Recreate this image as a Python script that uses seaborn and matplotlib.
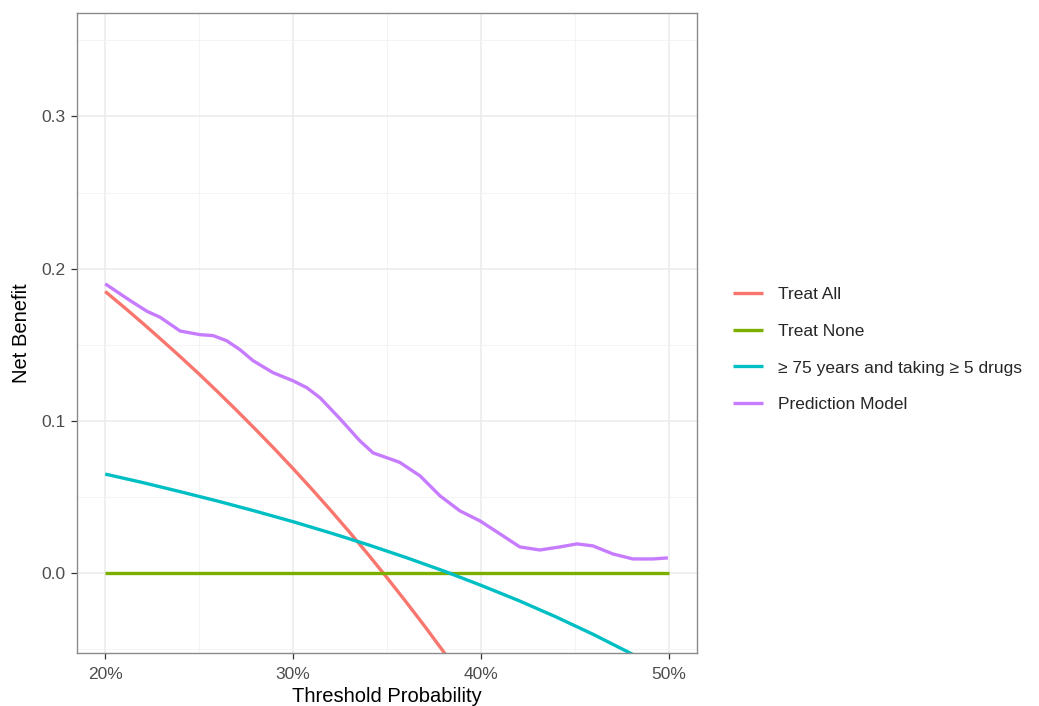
import numpy as np
import pandas as pd
import matplotlib
matplotlib.use("Agg")
import matplotlib.pyplot as plt
import seaborn as sns

# ---- data ----
series_names = ["Treat All", "Treat None", "\u2265 75 years and taking \u2265 5 drugs", "Prediction Model"]
series_colors = ["#F8766D", "#7CAE00", "#00BFC4", "#C77CFF"]

treat_all_x = [0.20, 0.21, 0.22, 0.23, 0.24, 0.25, 0.26, 0.27, 0.28, 0.29, 0.30,
               0.31, 0.32, 0.33, 0.34, 0.35, 0.36, 0.37, 0.38, 0.39, 0.40]
treat_all_y = [0.185, 0.1747, 0.1641, 0.1532, 0.1421, 0.1307, 0.1189, 0.1068, 0.0944, 0.0817, 0.0686,
               0.0551, 0.0412, 0.0269, 0.0121, -0.0031, -0.0188, -0.0349, -0.0516, -0.0688, -0.0867]

treat_none_x = [0.20, 0.50]
treat_none_y = [0.0, 0.0]

rule_x = [0.20, 0.22, 0.24, 0.26, 0.28, 0.30, 0.32, 0.34, 0.36, 0.38, 0.40,
          0.42, 0.44, 0.46, 0.48, 0.50]
rule_y = [0.0650, 0.0594, 0.0534, 0.0472, 0.0406, 0.0337, 0.0263, 0.0185, 0.0102, 0.0014, -0.0081,
          -0.0181, -0.0289, -0.0405, -0.0530, -0.0665]

model_x = [0.200, 0.2133, 0.2222, 0.2293, 0.2399, 0.2505, 0.2574, 0.2647, 0.2718, 0.2787,
           0.2894, 0.300, 0.3074, 0.3144, 0.325, 0.3356, 0.3426, 0.3532, 0.3569, 0.3676,
           0.3782, 0.3888, 0.3995, 0.4101, 0.4207, 0.4314, 0.442, 0.4511, 0.4596, 0.4702,
           0.4809, 0.4915, 0.4995]
model_y = [0.190, 0.179, 0.172, 0.168, 0.159, 0.1566, 0.156, 0.1526, 0.1467, 0.1395,
           0.1316, 0.1263, 0.1217, 0.1151, 0.1013, 0.0868, 0.0789, 0.0743, 0.0726, 0.0638,
           0.0507, 0.0408, 0.0342, 0.0257, 0.0171, 0.0151, 0.0171, 0.0191, 0.0178, 0.0125,
           0.0092, 0.0092, 0.0099]

x_ticks = [0.2, 0.3, 0.4, 0.5]
x_tick_labels = ["20%", "30%", "40%", "50%"]
y_ticks = [0.0, 0.1, 0.2, 0.3]
y_tick_labels = ["0.0", "0.1", "0.2", "0.3"]

# ---- build long-form table ----
frames = []
for name, xs, ys in zip(series_names,
                        [treat_all_x, treat_none_x, rule_x, model_x],
                        [treat_all_y, treat_none_y, rule_y, model_y]):
    frames.append(pd.DataFrame({"threshold": xs, "net_benefit": ys, "model": name}))
df = pd.concat(frames, ignore_index=True)

sns.set_theme(style="white")
plt.rcParams["font.family"] = ["Liberation Sans", "DejaVu Sans"]

fig = plt.figure(figsize=(10.39, 7.06), dpi=100)
ax = fig.add_axes([77 / 1039, 1 - 653 / 706, (697 - 77) / 1039, (653 - 13) / 706])

sns.lineplot(data=df, x="threshold", y="net_benefit", hue="model",
             hue_order=series_names, palette=series_colors, linewidth=2.4,
             sort=True, estimator=None, ax=ax, legend=True)
for ln in ax.lines:
    ln.set_solid_joinstyle("round")
    ln.set_solid_capstyle("butt")

ax.set_xlim(0.185, 0.515)
ax.set_ylim(-0.0526, 0.368)
ax.set_xticks(x_ticks)
ax.set_xticklabels(x_tick_labels)
ax.set_yticks(y_ticks)
ax.set_yticklabels(y_tick_labels)
ax.set_xticks([0.25, 0.35, 0.45], minor=True)
ax.set_yticks([-0.05, 0.05, 0.15, 0.25, 0.35], minor=True)

ax.grid(which="major", color="#EBEBEB", linewidth=1.1)
ax.grid(which="minor", color="#F2F2F2", linewidth=0.6)
ax.set_axisbelow(True)

for s in ax.spines.values():
    s.set_color("#8A8A8A")
    s.set_linewidth(1.0)

ax.tick_params(axis="both", which="major", direction="out", length=4, width=0.9,
               color="#333333", labelsize=12.5, labelcolor="#4D4D4D", pad=4,
               bottom=True, left=True)
ax.tick_params(axis="x", which="major", pad=6)
ax.tick_params(axis="both", which="minor", length=0)

ax.set_xlabel("Threshold Probability", fontsize=14.5, color="black", labelpad=4)
ax.set_ylabel("Net Benefit", fontsize=14.5, color="black", labelpad=8)

handles, labels = ax.get_legend_handles_labels()
ax.legend(handles, labels, loc="center left",
          bbox_to_anchor=(733 / 1039, 1 - 349.5 / 706), bbox_transform=fig.transFigure,
          frameon=False, fontsize=12.5, handlelength=1.75, handletextpad=0.85,
          labelspacing=1.25, borderpad=0, borderaxespad=0)

fig.savefig("out.png", dpi=100)
